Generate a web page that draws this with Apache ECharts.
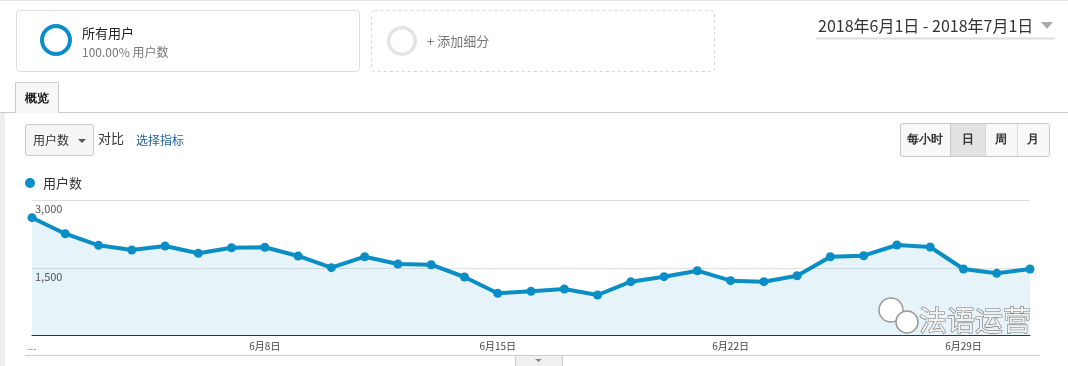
<!DOCTYPE html>
<html><head><meta charset="utf-8">
<script src="https://cdn.jsdelivr.net/npm/echarts@6/dist/echarts.min.js"></script>
<style>html,body{margin:0;padding:0;background:#fff;}#c{width:1068px;height:366px;}</style>
</head><body><div id="c"></div>
<script>
const categories = ["6月1日","6月2日","6月3日","6月4日","6月5日","6月6日","6月7日","6月8日","6月9日","6月10日","6月11日","6月12日","6月13日","6月14日","6月15日","6月16日","6月17日","6月18日","6月19日","6月20日","6月21日","6月22日","6月23日","6月24日","6月25日","6月26日","6月27日","6月28日","6月29日","6月30日","7月1日"];
const users = [2618,2262,2004,1900,1989,1827,1951,1960,1767,1507,1751,1589,1573,1300,938,982,1033,900,1196,1307,1440,1218,1196,1329,1751,1773,2011,1967,1478,1382,1478];
const yTicks = [0,1500,3000];

const F = '"Noto Sans CJK SC", "Noto Sans", sans-serif';
const chart = echarts.init(document.getElementById('c'));
function T(x,y,text,size,color,extra){return Object.assign({type:'text',x:x,y:y,style:Object.assign({text:text,font:size+'px '+F,fill:color,textVerticalAlign:'middle'},extra||{})});}
const graphics = [
  {type:'line',shape:{x1:0,y1:0.5,x2:1068,y2:0.5},style:{stroke:'#e3e3e3',lineWidth:1}},
  {type:'line',shape:{x1:2.5,y1:112,x2:2.5,y2:366},style:{stroke:'#eeeeee',lineWidth:5}},
  {type:'rect',shape:{x:16.5,y:10.5,width:343,height:61,r:3},style:{fill:'#fff',stroke:'#dcdcdc',lineWidth:1}},
  {type:'ring',shape:{cx:56,cy:40,r:16,r0:12},style:{fill:'#0b8ec6'}},
  T(82,33,'所有用户',13,'#222'),
  T(82,52,'100.00% 用户数',12,'#777'),
  {type:'rect',shape:{x:371.5,y:10.5,width:343,height:61,r:3},style:{fill:'#fff',stroke:'#d6d6d6',lineWidth:1,lineDash:[3,3]}},
  {type:'ring',shape:{cx:402,cy:41,r:15,r0:11.5},style:{fill:'#e4e4e4'}},
  T(427,41,'+ 添加细分',13,'#777'),
  T(818,26,'2018年6月1日 - 2018年7月1日',16,'#333'),
  {type:'polygon',shape:{points:[[1041,22],[1053,22],[1047,29]]},style:{fill:'#aaa'}},
  {type:'line',shape:{x1:816,y1:38.5,x2:1055,y2:38.5},style:{stroke:'#dddddd',lineWidth:2}},
  {type:'line',shape:{x1:0,y1:112.5,x2:1068,y2:112.5},style:{stroke:'#cccccc',lineWidth:1}},
  {type:'rect',shape:{x:15.5,y:82.5,width:43,height:30},style:{fill:'#f7f7f7',stroke:'#cccccc',lineWidth:1}},
  {type:'line',shape:{x1:16,y1:112.5,x2:58,y2:112.5},style:{stroke:'#f7f7f7',lineWidth:1}},
  T(37,99,'概览',13,'#222',{textAlign:'center',fontWeight:'bold'}),
  {type:'rect',shape:{x:25.5,y:124.5,width:68,height:31,r:2},style:{fill:'#f5f5f5',stroke:'#c8c8c8',lineWidth:1}},
  T(33,140,'用户数',12,'#333'),
  {type:'polygon',shape:{points:[[78,139],[86,139],[82,143]]},style:{fill:'#555'}},
  T(98,138,'对比',13,'#333'),
  T(136,140,'选择指标',12,'#1f5f99'),
  {type:'rect',shape:{x:900.5,y:123.5,width:149,height:33,r:2},style:{fill:'#f8f8f8',stroke:'#c8c8c8',lineWidth:1}},
  {type:'rect',shape:{x:951,y:124,width:34,height:32},style:{fill:'#e2e2e2'}},
  {type:'line',shape:{x1:950.5,y1:124,x2:950.5,y2:156},style:{stroke:'#c8c8c8'}},
  {type:'line',shape:{x1:985.5,y1:124,x2:985.5,y2:156},style:{stroke:'#d8d8d8'}},
  {type:'line',shape:{x1:1017.5,y1:124,x2:1017.5,y2:156},style:{stroke:'#d8d8d8'}},
  T(925,140,'每小时',12,'#333',{textAlign:'center',fontWeight:'bold'}),
  T(968,140,'日',12,'#333',{textAlign:'center',fontWeight:'bold'}),
  T(1001,140,'周',12,'#333',{textAlign:'center',fontWeight:'bold'}),
  T(1033,140,'月',12,'#333',{textAlign:'center',fontWeight:'bold'}),
  {type:'circle',shape:{cx:30,cy:183,r:5},style:{fill:'#0b8ec6'}},
  T(43,183,'用户数',13,'#333'),
  {type:'line',shape:{x1:25,y1:355.5,x2:1040,y2:355.5},style:{stroke:'#cccccc'}},
  {type:'rect',shape:{x:515.5,y:355.5,width:47,height:11},style:{fill:'#f0f0f0',stroke:'#cccccc'}},
  {type:'polygon',shape:{points:[[535,359],[542,359],[538.5,362]]},style:{fill:'#888'}},
  {type:'circle',shape:{cx:891,cy:310,r:12},style:{fill:'#fff',stroke:'#999',lineWidth:1.5},z:100},
  {type:'circle',shape:{cx:907,cy:322,r:11},style:{fill:'#fff',stroke:'#999',lineWidth:1.5},z:101},
  T(919,320,'法语运营',28,'#f2f2f2',{stroke:'#777',lineWidth:1.2})
];
graphics[graphics.length-1].z = 102;

chart.setOption({
  animation:false,
  graphic:graphics,
  grid:{left:32,right:38,top:200.5,bottom:30.5,containLabel:false},
  xAxis:{type:'category',data:categories,boundaryGap:false,z:5,
    axisLine:{lineStyle:{color:'#333',width:1}},axisTick:{show:false},
    axisLabel:{interval:function(i){return i%7===0;},margin:6,fontSize:10,color:'#444',fontFamily:F,
      formatter:function(v,i){return i===0?'...':v;}},
    splitLine:{show:false}},
  yAxis:[
    {type:'value',min:yTicks[0],max:yTicks[2],interval:yTicks[1],z:0,
      axisLine:{show:false},axisTick:{show:false},axisLabel:{show:false},
      splitLine:{lineStyle:{color:'#e0e0e0',width:1}}},
    {type:'value',position:'left',min:yTicks[0],max:yTicks[2],interval:yTicks[1],z:3,
      axisLine:{show:false},axisTick:{show:false},splitLine:{show:false},
      axisLabel:{inside:true,showMinLabel:false,margin:3,fontSize:11,color:'#555',fontFamily:F,verticalAlign:'top',padding:[3,0,0,0],
        formatter:function(v){return v.toLocaleString('en-US');}}}
  ],
  series:[{type:'line',data:users,yAxisIndex:0,symbol:'circle',symbolSize:9,showSymbol:true,z:2,
    lineStyle:{color:'#0b8ec6',width:4},itemStyle:{color:'#0b8ec6'},
    areaStyle:{color:'#058dc7',opacity:0.1}}]
});
</script></body></html>
